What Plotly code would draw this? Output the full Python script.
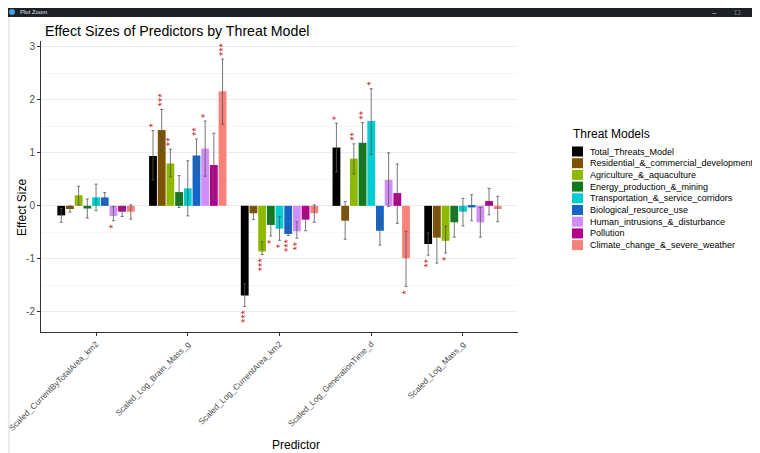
import plotly.graph_objects as go

# ---------------- data ----------------
predictors = ["Scaled_CurrentByTotalArea_km2", "Scaled_Log_Brain_Mass_g",
              "Scaled_Log_CurrentArea_km2", "Scaled_Log_GenerationTime_d",
              "Scaled_Log_Mass_g"]

models = ["Total_Threats_Model", "Residential_&_commercial_development",
          "Agriculture_&_aquaculture", "Energy_production_&_mining",
          "Transportation_&_service_corridors", "Biological_resource_use",
          "Human_intrusions_&_disturbance", "Pollution",
          "Climate_change_&_severe_weather"]

colors = ["#000000", "#7E5300", "#8DBA00", "#117A1E", "#00CDD2",
          "#1565C6", "#D28EF7", "#B2008C", "#F8827A"]

# effect sizes (one list per model, in predictor order)
eff_total     = [-0.18, 0.94, -1.69, 1.10, -0.72]
eff_resid     = [-0.06, 1.43, -0.14, -0.28, -0.60]
eff_agri      = [0.20, 0.80, -0.86, 0.89, -0.66]
eff_energy    = [-0.05, 0.26, -0.36, 1.19, -0.31]
eff_transport = [0.16, 0.33, -0.43, 1.60, -0.11]
eff_bio       = [0.16, 0.95, -0.53, -0.47, -0.03]
eff_human     = [-0.19, 1.08, -0.48, 0.49, -0.31]
eff_pollution = [-0.11, 0.77, -0.26, 0.24, 0.09]
eff_climate   = [-0.11, 2.16, -0.14, -0.99, -0.06]

# confidence interval lower bounds
lo_total     = [-0.31, 0.49, -1.90, 0.64, -0.93]
lo_resid     = [-0.12, 1.03, -0.26, -0.63, -1.08]
lo_agri      = [0.02, 0.55, -0.92, 0.60, -0.89]
lo_energy    = [-0.23, -0.03, -0.57, 0.80, -0.59]
lo_transport = [-0.09, -0.19, -0.65, 0.97, -0.38]
lo_bio       = [0.02, 0.65, -0.56, -0.74, -0.28]
lo_human     = [-0.28, 0.56, -0.61, -0.01, -0.59]
lo_pollution = [-0.20, 0.11, -0.47, -0.33, -0.17]
lo_climate   = [-0.25, 1.54, -0.31, -1.52, -0.30]

# confidence interval upper bounds
hi_total     = [-0.05, 1.42, -1.47, 1.56, -0.51]
hi_resid     = [0.00, 1.82, -0.02, 0.08, -0.11]
hi_agri      = [0.37, 1.07, -0.68, 1.17, -0.38]
hi_energy    = [0.13, 0.57, -0.19, 1.57, -0.03]
hi_transport = [0.41, 0.85, -0.20, 2.21, 0.14]
hi_bio       = [0.25, 1.26, -0.39, -0.20, 0.21]
hi_human     = [-0.01, 1.60, -0.30, 1.00, -0.03]
hi_pollution = [-0.01, 1.37, -0.14, 0.79, 0.33]
hi_climate   = [0.02, 2.77, 0.02, -0.48, 0.18]

# significance labels
sig_total     = ["", "*", "***", "*", "**"]
sig_resid     = ["", "***", "", "", ""]
sig_agri      = ["", "**", "***", "**", "*"]
sig_energy    = ["", "", "*", "**", ""]
sig_transport = ["", "", "*", "*", ""]
sig_bio       = ["", "**", "***", "", ""]
sig_human     = ["*", "*", "**", "", ""]
sig_pollution = ["", "", "", "", ""]
sig_climate   = ["", "***", "", "*", ""]

y_tick_vals = [-2, -1, 0, 1, 2, 3]
y_tick_text = ["-2", "-1", "0", "1", "2", "3"]

effects = [eff_total, eff_resid, eff_agri, eff_energy, eff_transport,
           eff_bio, eff_human, eff_pollution, eff_climate]
lows = [lo_total, lo_resid, lo_agri, lo_energy, lo_transport,
        lo_bio, lo_human, lo_pollution, lo_climate]
highs = [hi_total, hi_resid, hi_agri, hi_energy, hi_transport,
         hi_bio, hi_human, hi_pollution, hi_climate]
sigs = [sig_total, sig_resid, sig_agri, sig_energy, sig_transport,
        sig_bio, sig_human, sig_pollution, sig_climate]

FONT = "Liberation Sans, Arial, sans-serif"

fig = go.Figure()
for i, m in enumerate(models):
    e, lo, hi = effects[i], lows[i], highs[i]
    fig.add_trace(go.Bar(
        x=predictors, y=e, name=m, offsetgroup=str(i),
        marker=dict(color=colors[i], line=dict(width=0)),
        error_y=dict(type="data", symmetric=False,
                     array=[h - v for h, v in zip(hi, e)],
                     arrayminus=[v - l for v, l in zip(e, lo)],
                     color="#555555", thickness=0.8, width=1.5),
        showlegend=False,
    ))
for i, m in enumerate(models):
    e, lo, hi = effects[i], lows[i], highs[i]
    ends = [h if v >= 0 else l for v, l, h in zip(e, lo, hi)]
    fig.add_trace(go.Bar(
        x=predictors, y=ends, offsetgroup=str(i),
        marker=dict(color="rgba(0,0,0,0)", line=dict(width=0)),
        text=sigs[i], textposition="outside", textangle=-90,
        constraintext="none", cliponaxis=False,
        textfont=dict(color="#C81E1E", size=11, family=FONT),
        showlegend=False, hoverinfo="skip",
    ))

# The page body has an 8px margin, so the figure starts at screen (8, 8).
OFF = 8
W, H = 760 - OFF, 453 - OFF
# plot area in screen pixels
L, R, T, B = 41, 518, 41, 332
def px(x):
    return (x - L) / (R - L)
def py(y):
    return (B - y) / (B - T)

shapes = []
annotations = []

# window chrome
shapes.append(dict(type="rect", xref="paper", yref="paper",
                   x0=px(0), x1=px(760), y0=py(17), y1=py(6),
                   fillcolor="#1C2028", line=dict(width=0), layer="above"))
shapes.append(dict(type="circle", xref="paper", yref="paper",
                   x0=px(9), x1=px(15), y0=py(15), y1=py(9),
                   fillcolor="#4A9BE0", line=dict(width=0), layer="above"))
shapes.append(dict(type="line", xref="paper", yref="paper",
                   x0=px(9), x1=px(9), y0=py(453), y1=py(17),
                   line=dict(color="#D9D9D9", width=1)))
annotations.append(dict(text="Plot Zoom", xref="paper", yref="paper",
                        x=px(18), y=py(12.5), xanchor="left", yanchor="middle",
                        showarrow=False, font=dict(size=6, color="#E0E0E0", family=FONT)))
for xx, t in [(714, "–"), (737, "□"), (754, "×")]:
    annotations.append(dict(text=t, xref="paper", yref="paper",
                            x=px(xx), y=py(12.5), xanchor="center", yanchor="middle",
                            showarrow=False, font=dict(size=8, color="#D0D0D0", family=FONT)))

# title and axis titles
annotations.append(dict(text="Effect Sizes of Predictors by Threat Model",
                        xref="paper", yref="paper", x=px(43), y=py(31),
                        xanchor="left", yanchor="middle", showarrow=False,
                        font=dict(size=14.2, color="#000000", family=FONT)))
annotations.append(dict(text="Effect Size", xref="paper", yref="paper",
                        x=px(22), y=py(208), xanchor="center", yanchor="middle",
                        textangle=-90, showarrow=False,
                        font=dict(size=12, color="#000000", family=FONT)))
annotations.append(dict(text="Predictor", xref="paper", yref="paper",
                        x=px(296), y=py(445), xanchor="center", yanchor="middle",
                        showarrow=False, font=dict(size=12, color="#000000", family=FONT)))

# manual legend
annotations.append(dict(text="Threat Models", xref="paper", yref="paper",
                        x=px(571), y=py(134), xanchor="left", yanchor="middle",
                        showarrow=False, font=dict(size=12, color="#000000", family=FONT)))
for i, m in enumerate(models):
    cy = 151.5 + i * 11.7
    shapes.append(dict(type="rect", xref="paper", yref="paper",
                       x0=px(572), x1=px(583), y0=py(cy + 5), y1=py(cy - 5),
                       fillcolor=colors[i], line=dict(width=0)))
    annotations.append(dict(text=m, xref="paper", yref="paper",
                            x=px(588), y=py(cy), xanchor="left", yanchor="middle",
                            showarrow=False,
                            font=dict(size=9.0, color="#000000", family=FONT)))

fig.update_layout(
    width=W, height=H,
    margin=dict(l=L - OFF, r=760 - R, t=T - OFF, b=453 - B, autoexpand=False),
    paper_bgcolor="white", plot_bgcolor="white",
    barmode="group", bargap=0.147, bargroupgap=0.1,
    showlegend=False,
    shapes=shapes, annotations=annotations,
    font=dict(family=FONT),
)
fig.update_xaxes(
    range=[-0.6, 4.6], showline=True, linecolor="#333333", linewidth=1,
    ticks="outside", ticklen=3, tickcolor="#333333", showgrid=False,
    tickangle=-45, tickfont=dict(size=8.3, color="#4D4D4D", family=FONT),
    zeroline=False,
)
fig.update_yaxes(
    range=[-2.38, 3.11], tickmode="array", tickvals=y_tick_vals, ticktext=y_tick_text,
    showline=True, linecolor="#333333", linewidth=1,
    ticks="outside", ticklen=3, tickcolor="#333333",
    showgrid=True, gridcolor="#EBEBEB", gridwidth=1, zeroline=False,
    tickfont=dict(size=10, color="#4D4D4D", family=FONT),
    minor=dict(tickmode="array", tickvals=[-2.5, -1.5, -0.5, 0.5, 1.5, 2.5],
               showgrid=True, gridcolor="#F5F5F5", gridwidth=0.6, ticks=""),
)

fig.write_html("out.html")
